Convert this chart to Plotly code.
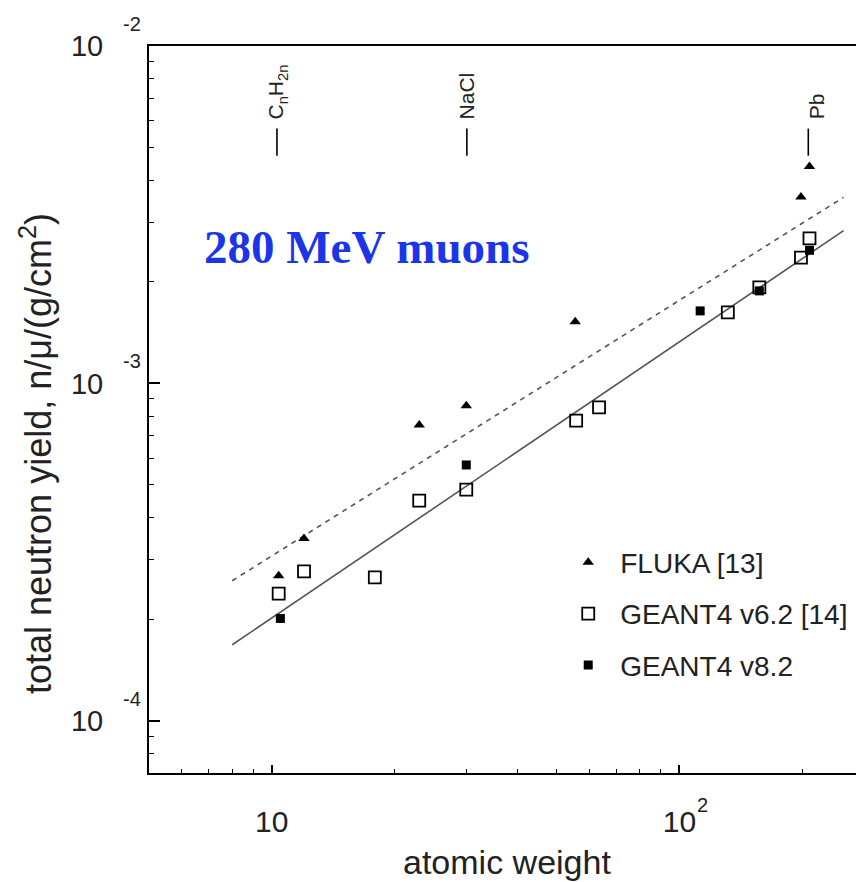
import math
import plotly.graph_objects as go

# ---------------- data ----------------
fluka_A = [10.4, 12.0, 23.0, 30.0, 55.5, 198.6, 208.4]
fluka_Y = [2.69e-4, 3.47e-4, 7.53e-4, 8.59e-4, 1.524e-3, 3.57e-3, 4.39e-3]

g62_A = [10.4, 12.0, 17.9, 23.0, 30.0, 55.8, 63.5, 131.4, 157.0, 198.6, 208.4]
g62_Y = [2.38e-4, 2.77e-4, 2.66e-4, 4.49e-4, 4.84e-4, 7.75e-4, 8.49e-4,
         1.623e-3, 1.925e-3, 2.36e-3, 2.69e-3]

g82_A = [10.5, 30.0, 112.4, 157.0, 208.4]
g82_Y = [2.01e-4, 5.73e-4, 1.64e-3, 1.88e-3, 2.48e-3]

fit_solid_A = [8.0, 252.6]
fit_solid_Y = [1.68e-4, 2.835e-3]
fit_dash_A = [8.0, 252.6]
fit_dash_Y = [2.60e-4, 3.56e-3]

element_names = ["C<sub>n</sub>H<sub>2n</sub>", "NaCl", "Pb"]
element_A = [10.3, 30.1, 207.0]
element_mark_Y = [4.73e-3, 5.69e-3]

y_tick_vals = [1e-4, 1e-3, 1e-2]
y_tick_exp = ["-4", "-3", "-2"]
x_tick_vals = [10, 100]
x_tick_exp = ["", "2"]

legend_names = ["FLUKA [13]", "GEANT4 v6.2 [14]", "GEANT4 v8.2"]

# ---------------- figure ----------------
FONT = "Liberation Sans, Arial, Helvetica, sans-serif"
TXT = "#222222"
fig = go.Figure()

fig.add_trace(go.Scatter(x=fit_dash_A, y=fit_dash_Y, mode="lines",
                         line=dict(color="#555555", width=1.6, dash="5px,5px"),
                         showlegend=False, hoverinfo="skip"))
fig.add_trace(go.Scatter(x=fit_solid_A, y=fit_solid_Y, mode="lines",
                         line=dict(color="#555555", width=1.6),
                         showlegend=False, hoverinfo="skip"))

# element markers (short vertical lines)
ex, ey = [], []
for a in element_A:
    ex += [a, a, None]
    ey += [element_mark_Y[0], element_mark_Y[1], None]
fig.add_trace(go.Scatter(x=ex, y=ey, mode="lines", line=dict(color="black", width=1.6),
                         showlegend=False, hoverinfo="skip", cliponaxis=False))

fig.add_trace(go.Scatter(x=fluka_A, y=fluka_Y, mode="markers", name=legend_names[0],
                         legendgroup="g1",
                         marker=dict(symbol="triangle-up", size=10, color="black")))
fig.add_trace(go.Scatter(x=g62_A, y=g62_Y, mode="markers", name=legend_names[1],
                         legendgroup="g2",
                         marker=dict(symbol="square-open", size=12, color="black",
                                     line=dict(width=1.8, color="black"))))
fig.add_trace(go.Scatter(x=g82_A, y=g82_Y, mode="markers", name=legend_names[2],
                         legendgroup="g3",
                         marker=dict(symbol="square", size=9, color="black")))

minor_y = [d * 10.0 ** e for e in range(-5, -1) for d in range(2, 10)]
minor_x = [d * 10.0 ** e for e in range(0, 3) for d in range(2, 10)]

fig.update_xaxes(type="log", range=[math.log10(5), math.log10(271)],
                 showline=True, linecolor="black", linewidth=2, mirror=True,
                 showgrid=False, zeroline=False,
                 tickmode="array", tickvals=x_tick_vals, ticktext=["10"] * len(x_tick_vals),
                 ticks="inside", ticklen=8, tickwidth=1.6, tickcolor="black",
                 ticklabelstandoff=21,
                 tickfont=dict(family=FONT, size=30, color=TXT),
                 minor=dict(tickmode="array", tickvals=minor_x, ticks="inside",
                            ticklen=4, tickwidth=1.4, tickcolor="black", showgrid=False))
fig.update_yaxes(type="log", range=[math.log10(7.0e-5), -2.0],
                 showline=True, linecolor="black", linewidth=2, mirror=False,
                 showgrid=False, zeroline=False,
                 tickmode="array", tickvals=y_tick_vals, ticktext=["10"] * len(y_tick_vals),
                 ticks="inside", ticklen=11, tickwidth=1.6, tickcolor="black",
                 ticklabelstandoff=38,
                 tickfont=dict(family=FONT, size=29, color=TXT),
                 minor=dict(tickmode="array", tickvals=minor_y, ticks="inside",
                            ticklen=5, tickwidth=1.4, tickcolor="black", showgrid=False))

ann = []
for v, e in zip(y_tick_vals, y_tick_exp):
    ann.append(dict(x=0, xref="paper", y=math.log10(v), yref="y", text=e,
                    xanchor="right", yanchor="middle", xshift=-6, yshift=22,
                    showarrow=False, font=dict(family=FONT, size=20, color=TXT)))
for v, e in zip(x_tick_vals, x_tick_exp):
    if e:
        ann.append(dict(x=math.log10(v), xref="x", y=0, yref="paper", text=e,
                        xanchor="left", yanchor="middle", xshift=16, yshift=-32,
                        showarrow=False, font=dict(family=FONT, size=20, color=TXT)))
shifts = [0, 0, 8]
for name, a, s in zip(element_names, element_A, shifts):
    ann.append(dict(x=math.log10(a), xref="x", y=0.8968, yref="paper", text=name,
                    textangle=-90, xanchor="center", yanchor="bottom", xshift=s,
                    showarrow=False, font=dict(family=FONT, size=21, color=TXT)))
ann.append(dict(x=0.3085, xref="paper", y=0.724, yref="paper", text="<b>280 MeV muons</b>",
                showarrow=False, xanchor="center", yanchor="middle",
                font=dict(family="Liberation Serif, Times New Roman, serif", size=47,
                          color="#1a36e8")))
ann.append(dict(x=-0.16, xref="paper", y=0.44, yref="paper",
                text="total neutron yield, n/\u03bc/(g/cm<sup>2</sup>)", textangle=-90,
                showarrow=False, xanchor="center", yanchor="middle",
                font=dict(family=FONT, size=36, color=TXT)))
ann.append(dict(x=0.507, xref="paper", y=-0.1224, yref="paper", text="atomic weight",
                showarrow=False, xanchor="center", yanchor="middle",
                font=dict(family=FONT, size=34, color=TXT)))

fig.update_layout(
    width=856, height=882,
    margin=dict(l=149, r=0, t=46, b=109),
    paper_bgcolor="white", plot_bgcolor="white",
    annotations=ann,
    showlegend=True,
    legend=dict(x=0.576, y=0.324, xanchor="left", yanchor="top",
                bgcolor="rgba(0,0,0,0)", tracegroupgap=12, itemwidth=54,
                font=dict(family=FONT, size=28, color=TXT)),
)

fig.write_html("out.html", config={"displayModeBar": False},
               post_script="document.body.style.margin='0px';"
                           "document.body.style.overflow='hidden';")
